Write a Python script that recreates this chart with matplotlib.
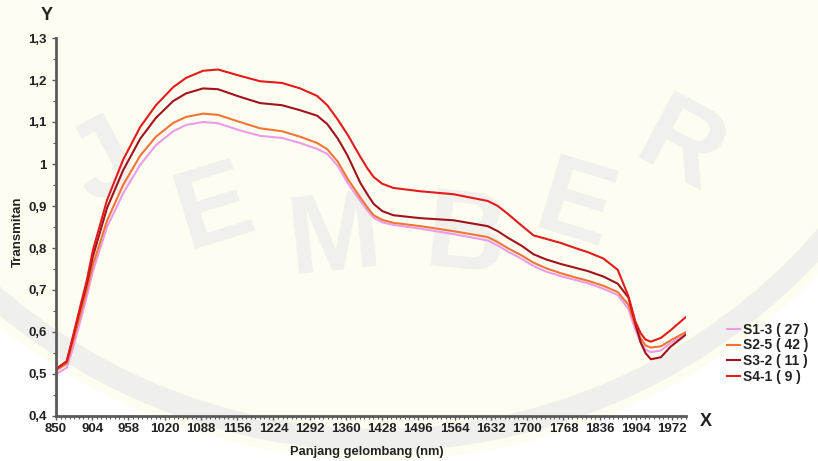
import numpy as np
import matplotlib
matplotlib.use("Agg")
import matplotlib.pyplot as plt
from matplotlib.patches import Circle
from matplotlib.lines import Line2D
from matplotlib.transforms import IdentityTransform

plt.rcParams['font.family'] = ['Liberation Sans', 'DejaVu Sans']

# ---- data ----
tick_wl = [850, 904, 958, 1020, 1088, 1156, 1224, 1292, 1360, 1428, 1496,
           1564, 1632, 1700, 1768, 1836, 1904, 1972]
y_ticks = [0.4, 0.5, 0.6, 0.7, 0.8, 0.9, 1.0, 1.1, 1.2, 1.3]
y_tick_labels = ["0,4", "0,5", "0,6", "0,7", "0,8", "0,9", "1", "1,1", "1,2", "1,3"]

wavelength = [850, 866, 875, 886, 896, 905, 926, 950, 978, 1005, 1036, 1060, 1092,
              1120, 1161, 1199, 1240, 1274, 1306, 1325, 1345, 1363, 1387, 1400, 1412,
              1428, 1449, 1500, 1562, 1626, 1645, 1663, 1690, 1712, 1735, 1763, 1790,
              1814, 1843, 1870, 1890, 1903, 1913, 1922, 1932, 1951, 1969, 1998]

s1_3 = [0.500, 0.515, 0.560, 0.625, 0.685, 0.745, 0.850, 0.930, 0.998, 1.045, 1.078,
        1.093, 1.100, 1.097, 1.080, 1.067, 1.062, 1.050, 1.036, 1.024, 0.995, 0.955,
        0.912, 0.890, 0.872, 0.861, 0.855, 0.846, 0.833, 0.818, 0.806, 0.792, 0.774,
        0.757, 0.744, 0.733, 0.724, 0.716, 0.703, 0.688, 0.655, 0.605, 0.575, 0.558,
        0.552, 0.556, 0.574, 0.595]
s2_5 = [0.508, 0.525, 0.575, 0.640, 0.700, 0.760, 0.865, 0.950, 1.020, 1.065, 1.098,
        1.112, 1.120, 1.117, 1.100, 1.085, 1.078, 1.065, 1.050, 1.035, 1.005, 0.965,
        0.920, 0.897, 0.878, 0.867, 0.860, 0.852, 0.840, 0.826, 0.814, 0.800, 0.782,
        0.765, 0.752, 0.740, 0.730, 0.722, 0.710, 0.695, 0.665, 0.615, 0.585, 0.568,
        0.563, 0.566, 0.580, 0.600]
s3_2 = [0.512, 0.530, 0.585, 0.655, 0.715, 0.780, 0.895, 0.985, 1.060, 1.110, 1.150,
        1.168, 1.180, 1.178, 1.160, 1.145, 1.140, 1.128, 1.115, 1.095, 1.060, 1.020,
        0.955, 0.928, 0.905, 0.888, 0.878, 0.871, 0.866, 0.852, 0.840, 0.825, 0.805,
        0.785, 0.773, 0.762, 0.753, 0.745, 0.732, 0.715, 0.682, 0.620, 0.575, 0.550,
        0.535, 0.540, 0.565, 0.594]
s4_1 = [0.512, 0.530, 0.588, 0.660, 0.724, 0.795, 0.914, 1.010, 1.088, 1.140, 1.183,
        1.205, 1.222, 1.225, 1.210, 1.197, 1.193, 1.180, 1.162, 1.140, 1.105, 1.070,
        1.017, 0.990, 0.969, 0.953, 0.943, 0.935, 0.928, 0.912, 0.900, 0.882, 0.853,
        0.830, 0.822, 0.812, 0.800, 0.790, 0.775, 0.748, 0.685, 0.625, 0.597, 0.582,
        0.577, 0.586, 0.604, 0.636]

series_labels = ["S1-3 ( 27 )", "S2-5 ( 42 )", "S3-2 ( 11 )", "S4-1 ( 9 )"]
series_values = [s1_3, s2_5, s3_2, s4_1]
series_colors = ["#ec9be6", "#f27536", "#a3121c", "#e31b1b"]


def wl_to_pos(wl):
    wl = np.asarray(wl, dtype=float)
    idx = np.arange(len(tick_wl))
    pos = np.interp(wl, tick_wl, idx)
    over = wl > tick_wl[-1]
    pos[over] = idx[-1] + (wl[over] - tick_wl[-1]) / (tick_wl[-1] - tick_wl[-2])
    return pos


W, H = 818, 461
fig = plt.figure(figsize=(W / 100, H / 100), dpi=100)
fig.patch.set_facecolor("white")

# ---- faint watermark background (pixel coordinates, origin bottom-left) ----
cx, cy = 380, H + 150
fig.patches.append(Circle((cx, cy), 610, transform=IdentityTransform(),
                          facecolor="#fdfdf1", edgecolor="none", zorder=-3))
fig.patches.append(Circle((cx, cy), 590, transform=IdentityTransform(),
                          facecolor="none", edgecolor="#efefec", linewidth=16, zorder=-2))
for ch, (px, py, rot) in zip("JEMBER", [(105, 165, 28), (215, 210, 17), (335, 240, 6),
                                        (465, 240, -6), (575, 210, -17), (680, 150, -28)]):
    fig.text(px / W, 1 - py / H, ch, fontsize=80, fontweight="bold", color="#f0f0ec",
             rotation=rot, ha="center", va="center", zorder=-1)

ax = fig.add_axes([56 / W, 1 - 416 / H, (686 - 56) / W, (416 - 38) / H])
ax.set_zorder(1)
ax.patch.set_alpha(0)

for vals, lab, col in zip(series_values, series_labels, series_colors):
    ax.plot(wl_to_pos(wavelength), vals, color=col, lw=1.5, label=lab,
            solid_joinstyle="round")

ax.set_xlim(0, wl_to_pos([1998])[0])
ax.set_ylim(0.4, 1.3)
ax.set_xticks(np.arange(len(tick_wl)))
ax.set_xticklabels([str(t) for t in tick_wl])
ax.set_xticks(np.arange(0, 17.4, 0.125), minor=True)
ax.set_yticks(y_ticks)
ax.set_yticklabels(y_tick_labels)
ax.set_yticks(np.arange(0.45, 1.3, 0.1), minor=True)

for s in ["top", "right"]:
    ax.spines[s].set_visible(False)
for s in ["left", "bottom"]:
    ax.spines[s].set_color("#5a5a5a")
    ax.spines[s].set_linewidth(2)

ax.tick_params(axis="both", which="major", labelsize=9.5, colors="#5a5a5a",
               labelcolor="#222222", length=3, width=1)
ax.tick_params(axis="x", which="minor", length=2, width=0.8, colors="#5a5a5a")
ax.tick_params(axis="y", which="minor", length=2, width=0.8, colors="#5a5a5a")
ax.tick_params(axis="x", pad=2)
for lbl in ax.get_xticklabels() + ax.get_yticklabels():
    lbl.set_fontweight("bold")

fig.text(18 / W, 1 - 232 / H, "Transmitan", rotation=90, ha="center", va="center",
         fontsize=9.5, fontweight="bold", color="#222222")
fig.text(367 / W, 1 - 452 / H, "Panjang gelombang (nm)", ha="center", va="center",
         fontsize=9.3, fontweight="bold", color="#222222")
fig.text(47 / W, 1 - 16 / H, "Y", ha="center", va="center", fontsize=13,
         fontweight="bold", color="#222222")
fig.text(706 / W, 1 - 422 / H, "X", ha="center", va="center", fontsize=13,
         fontweight="bold", color="#222222")

handles = [Line2D([], [], color=c, lw=1.5) for c in series_colors]
leg = fig.legend(handles, series_labels, loc="upper left",
                 bbox_to_anchor=(717 / W, 1 - 313 / H), frameon=False,
                 prop={"size": 10, "weight": "bold"}, handlelength=0.95,
                 handletextpad=0.25, labelspacing=0.12, borderpad=0.2)
for t in leg.get_texts():
    t.set_color("#222222")

fig.savefig("out.png", dpi=100)
